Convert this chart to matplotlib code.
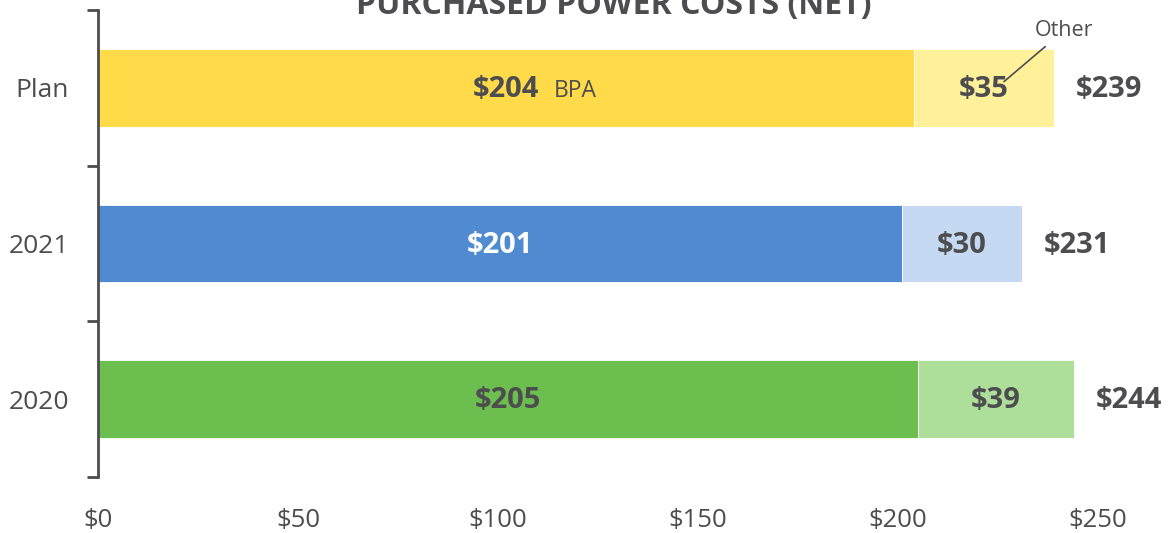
import matplotlib
matplotlib.use("Agg")
import matplotlib.pyplot as plt
from matplotlib.ticker import FixedLocator

plt.rcParams['font.family'] = ['Open Sans', 'DejaVu Sans']

categories = ["2020", "2021", "Plan"]
bpa = [205, 201, 204]
other = [39, 30, 35]
totals = [244, 231, 239]
xticks = [0, 50, 100, 150, 200, 250]
xtick_labels = ["$0", "$50", "$100", "$150", "$200", "$250"]

dark_colors = ["#6CBE4F", "#508AD0", "#FFDB4A"]
light_colors = ["#AEDF9A", "#C5DAF2", "#FFF09A"]
text_color = "#4D4D4F"

fig = plt.figure(figsize=(11.72, 5.33), dpi=100)
W, H = 1172, 533
ax = fig.add_axes([98 / W, (H - 477) / H, 1000 / W, 467 / H])

y = list(range(len(categories)))
ax.barh(y, bpa, height=0.5, color=dark_colors, edgecolor='white', linewidth=0.6)
ax.barh(y, other, left=bpa, height=0.5, color=light_colors, edgecolor='white', linewidth=0.6)

ax.set_xlim(0, 250)
ax.set_ylim(-0.5, 2.5)

for s in ['top', 'right', 'bottom']:
    ax.spines[s].set_visible(False)
ax.spines['left'].set_color(text_color)
ax.spines['left'].set_linewidth(2)

ax.set_yticks(y)
ax.set_yticklabels(categories)
ax.yaxis.set_minor_locator(FixedLocator([-0.5, 0.5, 1.5, 2.5]))
ax.tick_params(axis='y', which='major', length=0, pad=21, labelsize=19, labelcolor=text_color)
ax.tick_params(axis='y', which='minor', length=8, width=2, color=text_color)

ax.set_xticks(xticks)
ax.set_xticklabels(xtick_labels)
ax.tick_params(axis='x', length=0, pad=22.5, labelsize=18.5, labelcolor=text_color)

for i in range(len(categories)):
    bcol = 'white' if i == 1 else text_color
    ax.text(bpa[i] / 2, y[i] - 0.01, f"${bpa[i]}", ha='center', va='center',
            fontsize=21, fontweight='bold', color=bcol)
    ax.text(bpa[i] + other[i] / 2, y[i] - 0.01, f"${other[i]}", ha='center', va='center',
            fontsize=21, fontweight='bold', color=text_color)
    ax.text(totals[i] + 5.5, y[i] - 0.01, f"${totals[i]}", ha='left', va='center',
            fontsize=21, fontweight='bold', color=text_color)

# Series annotations on the Plan bar
pi = 2
ax.text(bpa[pi] / 2 + 12, y[pi] - 0.02, "BPA", ha='left', va='center', fontsize=16.5, color=text_color)
ax.annotate("Other", xy=(bpa[pi] + other[pi] / 2 + 5, y[pi] + 0.04),
            xytext=(bpa[pi] + other[pi] / 2 + 20, y[pi] + 0.30),
            ha='center', va='bottom', fontsize=15.5, color=text_color,
            arrowprops=dict(arrowstyle='-', color=text_color, lw=1.2, shrinkA=3, shrinkB=0))

fig.text(614 / W, (H - 14) / H, "PURCHASED POWER COSTS (NET)", ha='center', va='baseline',
         fontsize=23, fontweight='bold', color=text_color)

fig.savefig("out.png", dpi=100)
